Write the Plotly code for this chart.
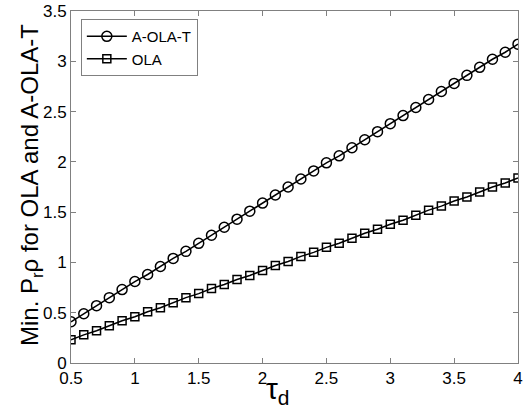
import plotly.graph_objects as go

tau_d = [0.5, 0.6, 0.7, 0.8, 0.9, 1.0, 1.1, 1.2, 1.3, 1.4, 1.5, 1.6, 1.7, 1.8,
         1.9, 2.0, 2.1, 2.2, 2.3, 2.4, 2.5, 2.6, 2.7, 2.8, 2.9, 3.0, 3.1, 3.2,
         3.3, 3.4, 3.5, 3.6, 3.7, 3.8, 3.9, 4.0]

a_ola_t = [0.41, 0.49, 0.57, 0.65, 0.73, 0.81, 0.88, 0.96, 1.04, 1.11, 1.19, 1.27,
           1.35, 1.43, 1.51, 1.59, 1.67, 1.75, 1.83, 1.91, 1.99, 2.06, 2.14, 2.22,
           2.30, 2.38, 2.46, 2.54, 2.62, 2.70, 2.78, 2.86, 2.94, 3.02, 3.09, 3.17]

ola = [0.23, 0.28, 0.32, 0.37, 0.42, 0.46, 0.51, 0.55, 0.60, 0.65, 0.69, 0.74,
       0.78, 0.83, 0.87, 0.92, 0.97, 1.01, 1.06, 1.10, 1.15, 1.19, 1.24, 1.29,
       1.33, 1.38, 1.42, 1.47, 1.52, 1.56, 1.61, 1.65, 1.70, 1.75, 1.79, 1.84]

x_ticks = [0.5, 1, 1.5, 2, 2.5, 3, 3.5, 4]
x_tick_labels = ["0.5", "1", "1.5", "2", "2.5", "3", "3.5", "4"]
y_ticks = [0, 0.5, 1, 1.5, 2, 2.5, 3, 3.5]
y_tick_labels = ["0", "0.5", "1", "1.5", "2", "2.5", "3", "3.5"]

FONT = "Liberation Sans, Arial, sans-serif"

fig = go.Figure()
fig.add_trace(go.Scatter(
    x=tau_d, y=a_ola_t, name="A-OLA-T", mode="lines+markers",
    line=dict(color="black", width=1.5),
    marker=dict(symbol="circle-open", size=10, color="black", line=dict(width=1.5)),
))
fig.add_trace(go.Scatter(
    x=tau_d, y=ola, name="OLA", mode="lines+markers",
    line=dict(color="black", width=1.5),
    marker=dict(symbol="square-open", size=8, color="black", line=dict(width=1.5)),
))

axis_common = dict(
    showgrid=False, zeroline=False, showline=True, linecolor="#808080", linewidth=1,
    mirror="ticks", ticks="inside", ticklen=5, tickcolor="#808080", tickwidth=1,
    tickfont=dict(family=FONT, size=17, color="black"),
    automargin=False,
)

fig.update_layout(
    width=524, height=406,
    margin=dict(l=71, r=6, t=11, b=43, autoexpand=False),
    paper_bgcolor="white", plot_bgcolor="white",
    font=dict(family=FONT, color="black"),
    showlegend=True,
    legend=dict(
        x=0.022, y=0.977, xanchor="left", yanchor="top",
        bgcolor="white", bordercolor="#808080", borderwidth=1,
        font=dict(family=FONT, size=15, color="black"),
        tracegroupgap=0, itemwidth=40,
    ),
    xaxis=dict(range=[0.5, 4], tickvals=x_ticks, ticktext=x_tick_labels, **axis_common),
    yaxis=dict(range=[0, 3.5], tickvals=y_ticks, ticktext=y_tick_labels, **axis_common),
    annotations=[
        dict(text="τ<sub>d</sub>", xref="paper", yref="paper", x=0.463, y=-0.02,
             xanchor="center", yanchor="top", showarrow=False,
             font=dict(family=FONT, size=30, color="black")),
        dict(text="Min. P<sub>r</sub>ρ for OLA and A-OLA-T", xref="paper", yref="paper",
             x=-0.09, y=0.505, xanchor="center", yanchor="middle", textangle=-90,
             showarrow=False, font=dict(family=FONT, size=24, color="black")),
    ],
)

fig.write_html(
    "out.html",
    config={"displayModeBar": False},
    post_script="document.body.style.margin='0';document.body.style.overflow='hidden';",
)
